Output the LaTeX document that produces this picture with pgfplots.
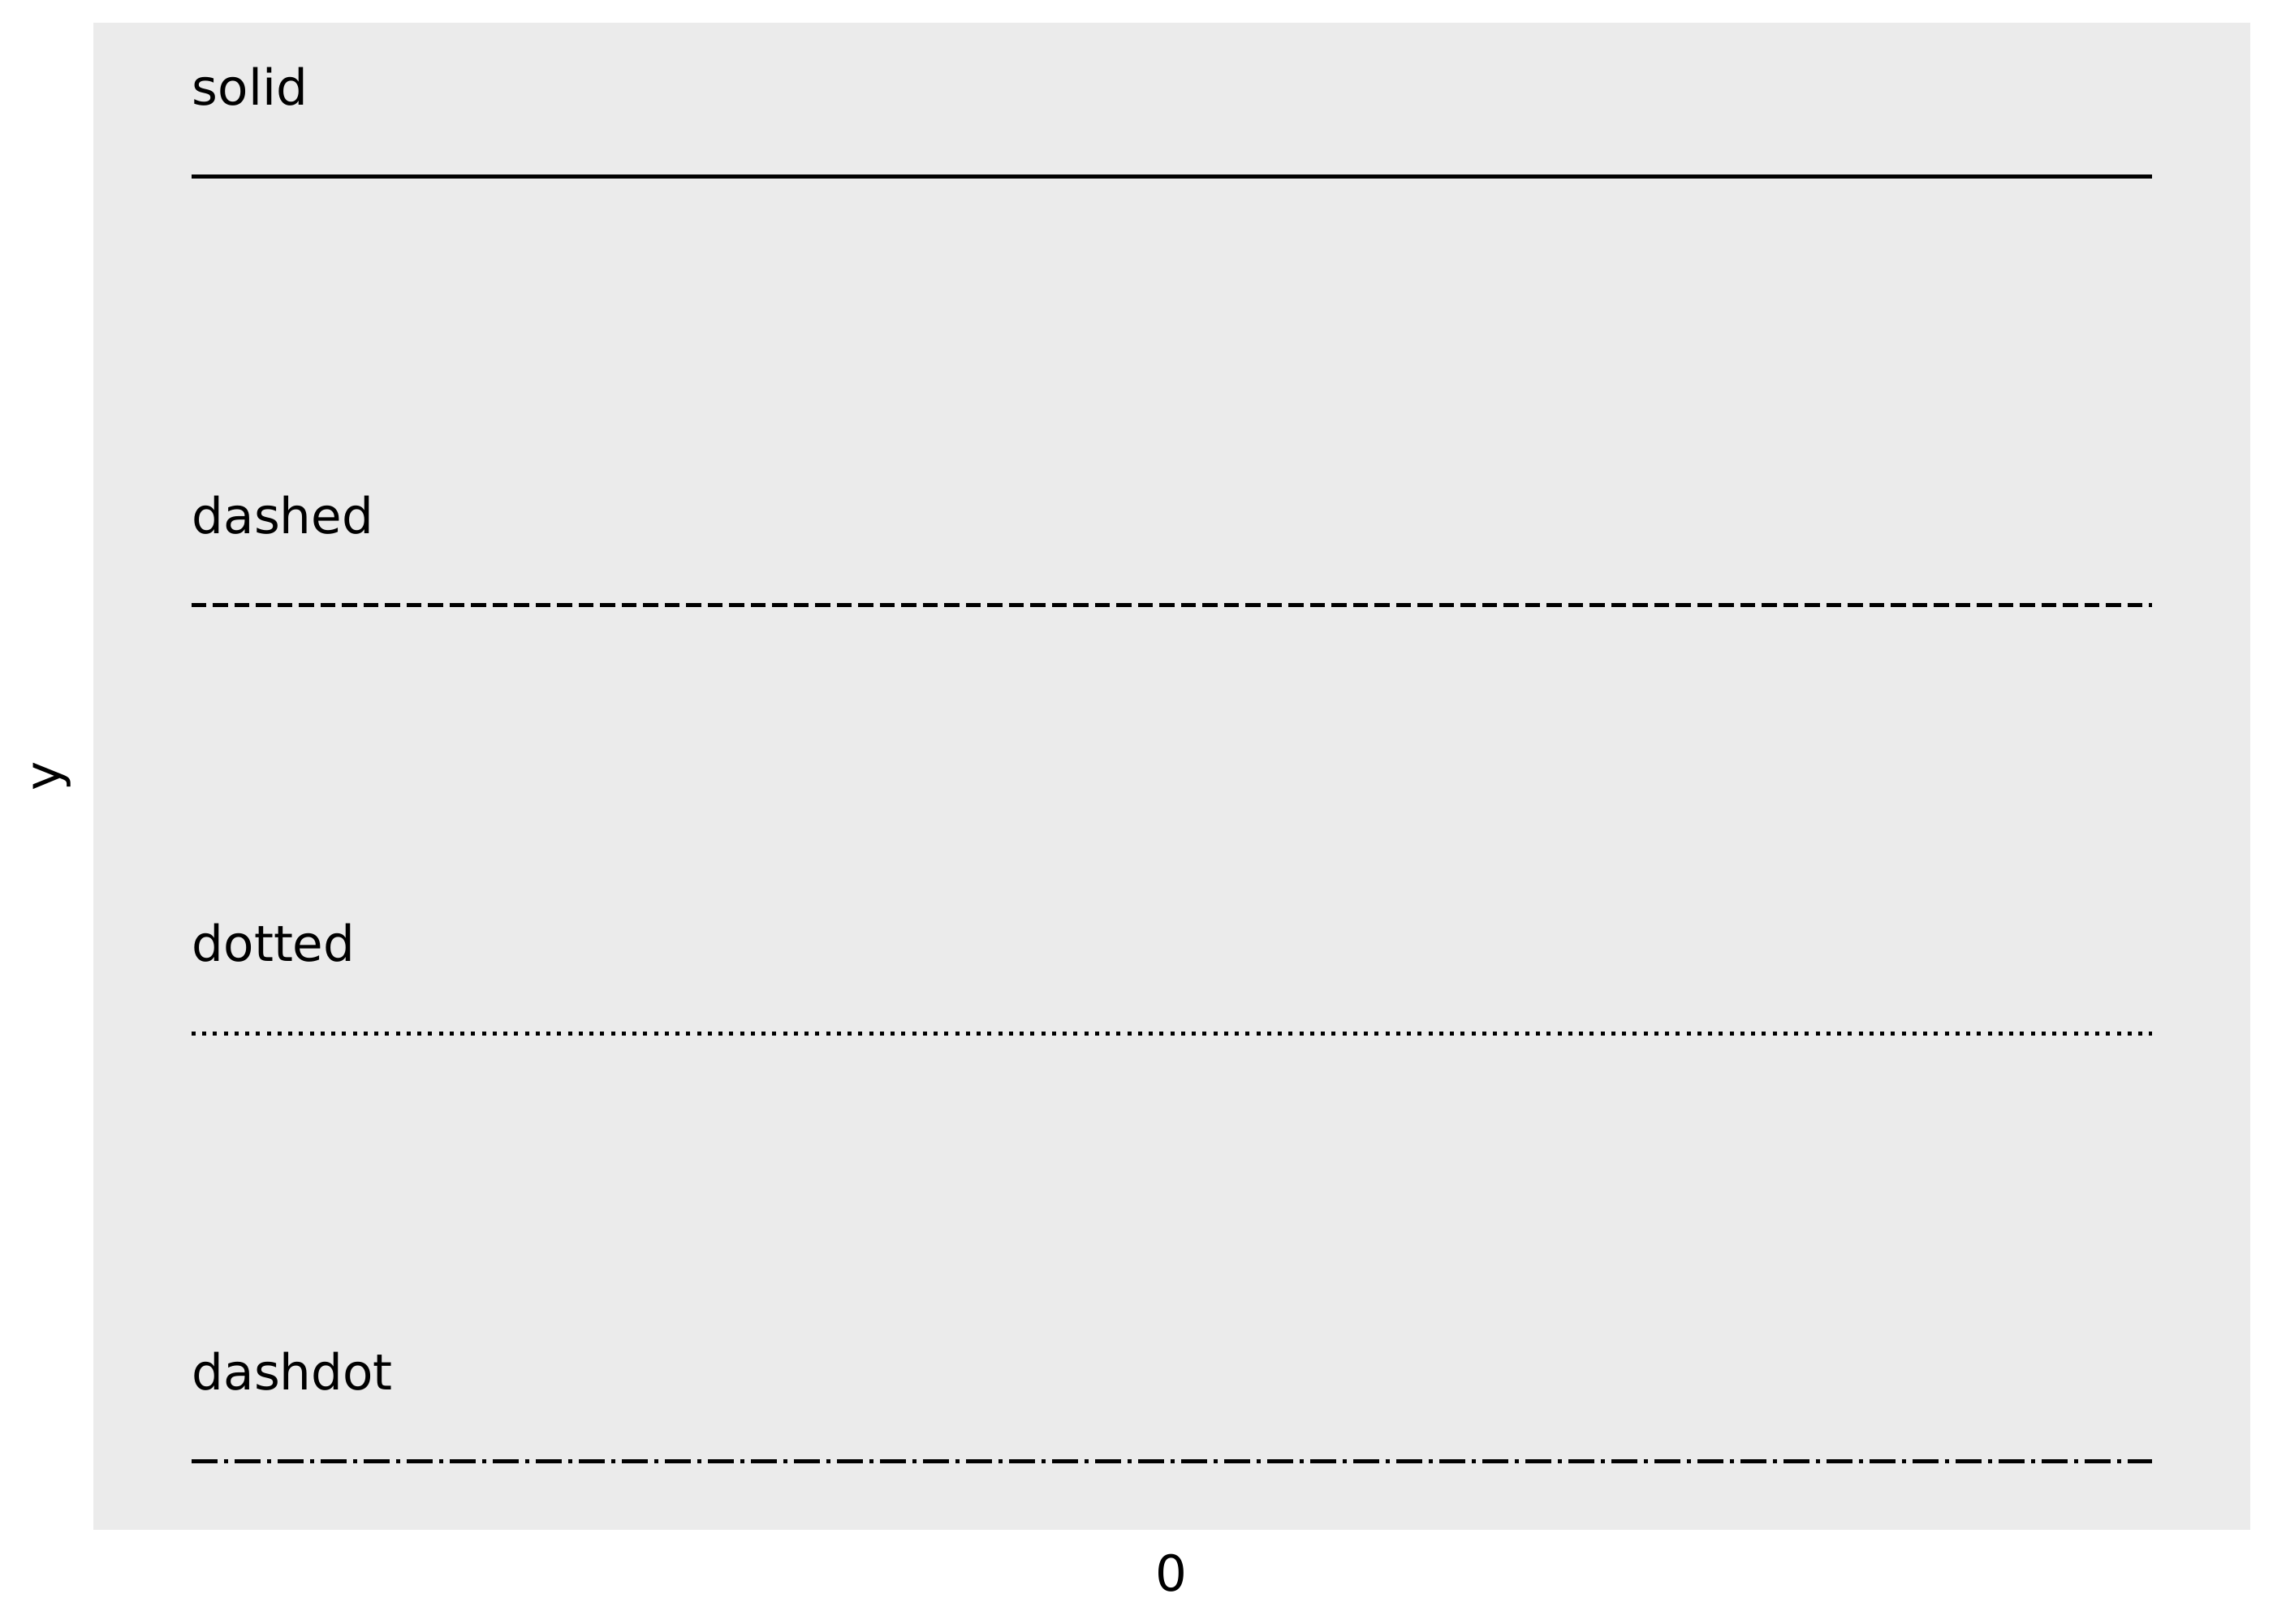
\documentclass[border=0pt]{standalone}
\usepackage{fontspec}
\setmainfont{DejaVu Sans}
\usepackage{pgfplots}
\pgfplotsset{compat=1.18}
\definecolor{panelgrey}{HTML}{EBEBEB}

\begin{document}
\begin{tikzpicture}
  \begin{axis}[
    scale only axis,
    width=478.2bp,
    height=334.3bp,
    xmin=-1.1, xmax=1.1,
    ymin=-0.16, ymax=3.36,
    axis background/.style={fill=panelgrey},
    axis line style={draw=none},
    major tick length=0pt,
    xtick={0},
    ytick=\empty,
    font=\fontsize{11bp}{13bp}\selectfont,
    /pgf/number format/assume math mode=true,
    xticklabel style={anchor=base, inner sep=0pt, yshift=-13.5bp},
    ylabel=y,
    ylabel style={at={(axis description cs:-0.01506,0.5)}, anchor=base, inner sep=0pt},
  ]
    \addplot[black, line width=0.9bp] coordinates {(-1,3) (1,3)};
    \addplot[black, line width=0.9bp, dash pattern=on 3.33bp off 1.44bp] coordinates {(-1,2) (1,2)};
    \addplot[black, line width=0.9bp, dash pattern=on 0.9bp off 1.485bp] coordinates {(-1,1) (1,1)};
    \addplot[black, line width=0.9bp, dash pattern=on 5.76bp off 1.44bp on 0.9bp off 1.44bp] coordinates {(-1,0) (1,0)};

    \addplot[draw=none, mark=none, nodes near coords, point meta=explicit symbolic,
      nodes near coords style={anchor=base west, inner sep=0pt, yshift=-3.1bp, black,
        font=\fontsize{11bp}{13bp}\selectfont}]
      table[meta=label] {
x y label
-1 3.2 solid
-1 2.2 dashed
-1 1.2 dotted
-1 0.2 dashdot
      };
  \end{axis}
  % page is 7in x 5in
  \path (-20.7bp,-20.7bp) rectangle (483.3bp,339.34bp);
\end{tikzpicture}
\end{document}
